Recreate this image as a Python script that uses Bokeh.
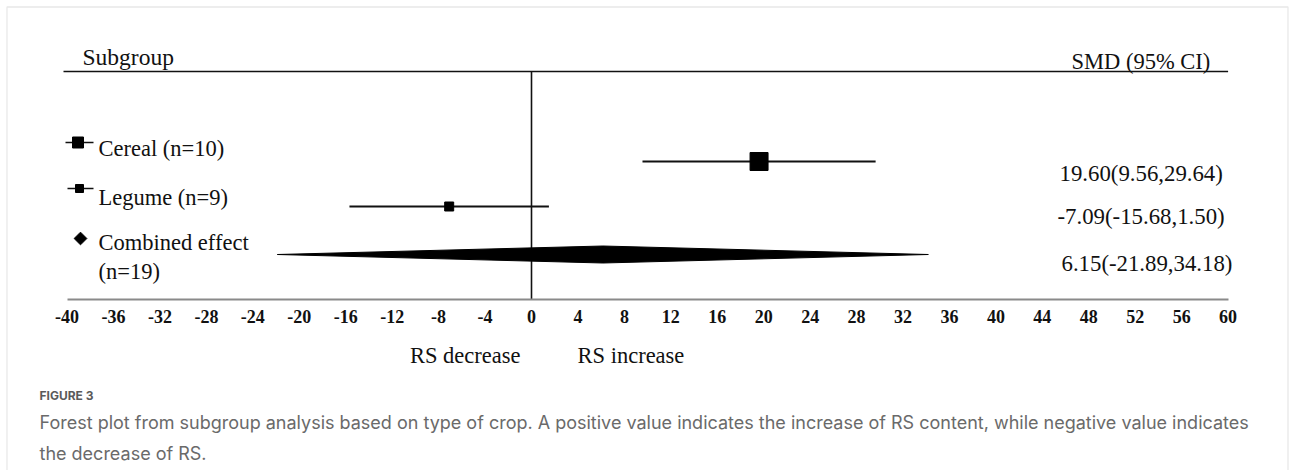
import math
from bokeh.plotting import figure
from bokeh.models import Range1d, LinearAxis, FixedTicker, Label, BoxAnnotation
from bokeh.embed import file_html
from bokeh.resources import INLINE

# ---------------- data ----------------
GROUP_LINES = [["Cereal (n=10)"], ["Legume (n=9)"], ["Combined effect", "(n=19)"]]
SMD = [19.60, -7.09, 6.15]
LOWER = [9.56, -15.68, -21.89]
UPPER = [29.64, 1.50, 34.18]
TICKS = [-40, -36, -32, -28, -24, -20, -16, -12, -8, -4, 0, 4, 8, 12, 16, 20,
         24, 28, 32, 36, 40, 44, 48, 52, 56, 60]
HEADER_LEFT = "Subgroup"
HEADER_RIGHT = "SMD (95% CI)"
SIDE_LEFT = "RS decrease"
SIDE_RIGHT = "RS increase"
FIG_LABEL = "FIGURE 3"
CAPTION = [
    "Forest plot from subgroup analysis based on type of crop. A positive value indicates "
    "the increase of RS content, while negative value indicates",
    "the decrease of RS.",
]

# ---------------- layout (page pixels) ----------------
W, H = 1292, 470
ZERO_PX = 531.0
PX_PER_UNIT = 11.61
AXIS_Y = 299
HEADER_Y = 71
ROW_Y = [161, 206, 254]
SQUARE_SIZES = [18, 9]
DIAMOND_HALF = 8.5
SERIF = "Liberation Serif"
SANS = "Inter"


def vx(page_x):
    return (page_x - ZERO_PX) / PX_PER_UNIT


p = figure(width=W, height=H, output_backend="svg", toolbar_location=None,
           x_range=Range1d(vx(0), vx(W)),
           y_range=Range1d(H, 0),
           x_axis_type=None, y_axis_type=None,
           min_border=0, min_border_left=0, min_border_right=0,
           min_border_top=0, min_border_bottom=0)
p.outline_line_color = None
p.background_fill_color = "white"
p.border_fill_color = "white"

# x axis, pinned at the bottom of the forest area
ax = LinearAxis(ticker=FixedTicker(ticks=TICKS), bounds=(TICKS[0], TICKS[-1]),
                fixed_location=AXIS_Y)
ax.major_label_overrides = {t: str(t) for t in TICKS}
ax.major_tick_line_color = None
ax.minor_tick_line_color = None
ax.major_tick_out = 0
ax.major_tick_in = 0
ax.axis_line_color = "#8a8a8a"
ax.axis_line_width = 2
ax.major_label_text_font = SERIF
ax.major_label_text_font_size = "18px"
ax.major_label_text_font_style = "bold"
ax.major_label_text_color = "#111111"
ax.major_label_standoff = 10
p.add_layout(ax, "below")

# border of the figure panel
p.add_layout(BoxAnnotation(left=vx(6.5), right=vx(1287.5),
                           top=6.5, bottom=2000,
                           fill_alpha=0, fill_color=None,
                           line_color="#b4b4b4", line_width=1.3))

# header rule and zero line
p.segment(x0=[vx(63)], x1=[TICKS[-1]], y0=[HEADER_Y], y1=[HEADER_Y],
          line_color="#111111", line_width=1.6)
p.segment(x0=[0], x1=[0], y0=[HEADER_Y], y1=[AXIS_Y],
          line_color="#111111", line_width=1.6)

# confidence intervals and point estimates of subgroups
p.segment(x0=LOWER[:2], x1=UPPER[:2], y0=ROW_Y[:2], y1=ROW_Y[:2],
          line_color="#111111", line_width=1.8)
p.scatter(x=SMD[:2], y=ROW_Y[:2], size=SQUARE_SIZES, marker="square",
          color="#000000")

# combined effect diamond
p.patch(x=[LOWER[2], SMD[2], UPPER[2], SMD[2]],
        y=[ROW_Y[2], ROW_Y[2] - DIAMOND_HALF, ROW_Y[2], ROW_Y[2] + DIAMOND_HALF],
        color="#000000", line_width=1)

# legend-like markers at the left
p.segment(x0=[vx(65), vx(67)], x1=[vx(93), vx(93)], y0=[142, 188], y1=[142, 188],
          line_color="#111111", line_width=1.6)
p.scatter(x=[vx(77.5), vx(79)], y=[142, 188], size=[11, 8], marker="square",
          color="#000000")
p.scatter(x=[vx(80)], y=[238], size=9, marker="square", angle=math.pi / 4,
          color="#000000")


def add_text(text, page_x, page_y, size, font=SERIF, align="left",
             style="normal", color="#111111"):
    p.add_layout(Label(x=vx(page_x), y=page_y, text=text, text_font=font,
                       text_font_size=f"{size}px", text_align=align,
                       text_baseline="alphabetic", text_font_style=style,
                       text_color=color))


add_text(HEADER_LEFT, 82, 56, 23.5)
add_text(HEADER_RIGHT, 1071, 61, 22.5)

label_baselines = [[148], [197], [242, 271]]
for lines, bases in zip(GROUP_LINES, label_baselines):
    for t, b in zip(lines, bases):
        add_text(t, 98, b, 22.5)

value_x = [1059, 1057, 1061]
value_base = [173, 216, 263]
for e, lo, hi, xx, bb in zip(SMD, LOWER, UPPER, value_x, value_base):
    add_text(f"{e:.2f}({lo:.2f},{hi:.2f})", xx, bb, 22.8)

add_text(SIDE_LEFT, 520, 355, 22.5, align="right")
add_text(SIDE_RIGHT, 577, 355, 22.5)

add_text(FIG_LABEL, 39, 395, 12, font=SANS, style="bold", color="#5a5a5a")
add_text(CAPTION[0], 39, 421.5, 18, font=SANS, color="#6a6a6a")
add_text(CAPTION[1], 39, 452.5, 18, font=SANS, color="#6a6a6a")

open("out.html", "w").write(file_html(p, INLINE))
